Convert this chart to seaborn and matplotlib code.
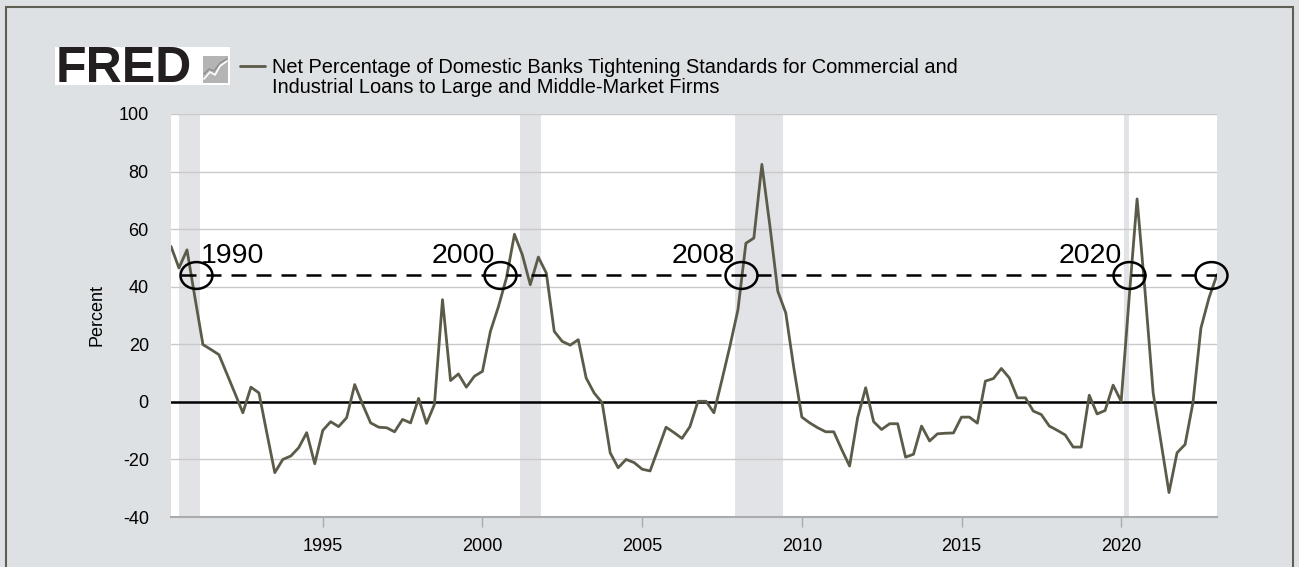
import numpy as np
import pandas as pd
import matplotlib
matplotlib.use("Agg")
import matplotlib.pyplot as plt
import seaborn as sns
from matplotlib.path import Path
from matplotlib.patches import Rectangle
from matplotlib.transforms import Affine2D

# ---------------- data ----------------
start_quarter = "1990-04-01"
tightening_pct = [
    54.0, 46.5, 52.8,                 # 1990 Q2-Q4
    36.0, 19.9, 18.2, 16.4,           # 1991
    9.7, 3.0, -3.8, 5.1,              # 1992
    3.1, -10.8, -24.6, -20.0,         # 1993
    -18.8, -15.9, -10.7, -21.5,       # 1994
    -9.9, -6.9, -8.6, -5.5,           # 1995
    6.0, -0.9, -7.3, -8.8,            # 1996
    -9.0, -10.4, -6.1, -7.3,          # 1997
    1.2, -7.5, -0.9, 35.5,            # 1998
    7.4, 9.7, 5.1, 8.9,               # 1999
    10.6, 24.5, 33.0, 43.0,           # 2000
    58.2, 51.1, 40.7, 50.3,           # 2001
    44.7, 24.5, 21.0, 19.7,           # 2002
    21.6, 8.3, 3.1, -0.3,             # 2003
    -17.7, -22.9, -20.0, -21.1,       # 2004
    -23.4, -24.0, -16.5, -8.8,        # 2005
    -10.7, -12.7, -8.6, 0.2,          # 2006
    0.2, -3.8, 7.5, 19.3,             # 2007
    32.0, 55.1, 56.9, 82.5,           # 2008
    61.0, 38.4, 30.9, 11.8,           # 2009
    -5.3, -7.3, -9.0, -10.4,          # 2010
    -10.4, -16.5, -22.3, -5.5,        # 2011
    4.9, -6.9, -9.6, -7.6,            # 2012
    -7.6, -19.2, -18.2, -8.4,         # 2013
    -13.6, -11.1, -10.9, -10.8,       # 2014
    -5.3, -5.3, -7.4, 7.2,            # 2015
    8.1, 11.6, 8.3, 1.4,              # 2016
    1.4, -3.2, -4.4, -8.4,            # 2017
    -9.9, -11.5, -15.7, -15.7,        # 2018
    2.3, -4.2, -3.0, 5.8,             # 2019
    0.2, 36.0, 70.5, 38.0,            # 2020
    3.1, -14.2, -31.5, -17.7,         # 2021
    -14.8, -0.3, 25.6, 36.1,          # 2022
    44.2,                             # 2023 Q1
]
recession_starts = ["1990-07-01", "2001-03-01", "2007-12-01", "2020-02-01"]
recession_ends = ["1991-03-01", "2001-11-01", "2009-06-01", "2020-04-01"]

threshold_level = 44
circle_years = [1991.02, 2000.55, 2008.11, 2020.24, 2022.80]
label_texts = ["1990", "2000", "2008", "2020"]
label_years = [1991.18, 2000.39, 2007.92, 2020.02]
label_align = ["left", "right", "right", "right"]
dash_start_year = 1990.55

y_ticks = [-40, -20, 0, 20, 40, 60, 80, 100]
x_tick_years = [1995, 2000, 2005, 2010, 2015, 2020]

series_name = ("Net Percentage of Domestic Banks Tightening Standards for Commercial and\n"
               "Industrial Loans to Large and Middle-Market Firms")


def year_to_ts(y):
    yi = int(y)
    return pd.Timestamp(year=yi, month=1, day=1) + pd.Timedelta(days=(y - yi) * 365.25)


dates = pd.date_range(start_quarter, periods=len(tightening_pct), freq="QS")
df = pd.DataFrame({"date": dates, "value": tightening_pct})

# ---------------- style ----------------
sns.set_style("white")
plt.rcParams["font.family"] = ["Liberation Sans", "DejaVu Sans"]

W, H = 1299, 567
bg = "#dde1e3"
line_color = "#5c5a48"

fig = plt.figure(figsize=(W / 100, H / 100), dpi=100, facecolor=bg)
ax = fig.add_axes([171 / W, 1 - 517 / H, (1217 - 171) / W, (517 - 114) / H])
ax.set_facecolor("white")

for s, e in zip(recession_starts, recession_ends):
    ax.axvspan(pd.Timestamp(s), pd.Timestamp(e), color="#e2e3e6", lw=0, zorder=0.2)

sns.lineplot(data=df, x="date", y="value", ax=ax, color=line_color, lw=2.0, zorder=4)

ax.axhline(0, color="black", lw=1.8, zorder=3)

# dashed threshold line
ax.hlines(threshold_level, year_to_ts(dash_start_year), dates[-1], colors="black",
          linestyles=(0, (6, 4)), lw=1.8, zorder=5)

# ellipse markers
ell = Path.unit_circle().transformed(Affine2D().scale(1.0, 0.84))
ax.plot([year_to_ts(y) for y in circle_years], [threshold_level] * len(circle_years),
        ls="none", marker=ell, ms=23, mfc="none", mec="black", mew=1.8, zorder=6,
        clip_on=False)

for t, y, a in zip(label_texts, label_years, label_align):
    ax.text(year_to_ts(y), 48.3, t, ha=a, va="baseline", fontsize=20.5, color="black", zorder=7)

ax.set_xlim(dates[0], dates[-1])
ax.set_ylim(-40, 100)
ax.set_yticks(y_ticks)
ax.set_yticklabels([str(v) for v in y_ticks])
ax.set_xticks([pd.Timestamp(year=y, month=1, day=1) for y in x_tick_years])
ax.set_xticklabels([str(y) for y in x_tick_years])
ax.grid(axis="y", color="#c9c9c9", lw=1.0, zorder=0.5)
ax.grid(axis="x", visible=False)
ax.set_axisbelow(True)
for sp in ["left", "right", "top"]:
    ax.spines[sp].set_visible(False)
ax.spines["bottom"].set_color("#a9abad")
ax.spines["bottom"].set_linewidth(1.5)
ax.tick_params(axis="y", length=0, pad=16, labelsize=13, labelcolor="black")
ax.tick_params(axis="x", length=7, width=1, color="#a9abad", pad=8, labelsize=13,
               labelcolor="black", direction="out", bottom=True)
ax.set_xlabel("")
ax.set_ylabel("")

fig.text(97 / W, 1 - 315 / H, "Percent", rotation=90, ha="center", va="center",
         fontsize=13, color="black")

# legend / title
fig.add_artist(plt.Line2D([240 / W, 265 / W], [1 - 66 / H, 1 - 66 / H], color=line_color,
                          lw=2, transform=fig.transFigure))
fig.text(272 / W, 1 - 58 / H, series_name, ha="left", va="top", fontsize=14.45,
         linespacing=1.06, color="black", transform=fig.transFigure)

# FRED logo
fig.add_artist(Rectangle((55 / W, 1 - 85 / H), (230 - 55) / W, (85 - 47) / H,
                         transform=fig.transFigure, facecolor="white", edgecolor="none"))
fig.text(56 / W, 1 - 82 / H, "FRED", ha="left", va="baseline", fontsize=36,
         fontweight="heavy", color="#231f20", transform=fig.transFigure)
fig.add_artist(Rectangle((203 / W, 1 - 83 / H), 25 / W, 27 / H, transform=fig.transFigure,
                         facecolor="#b4b4b4", edgecolor="none"))
fig.add_artist(plt.Line2D(np.array([204, 210, 215, 220, 227]) / W,
                          1 - np.array([79, 72, 75, 66, 61]) / H, color="white", lw=1.2,
                          transform=fig.transFigure))
fig.add_artist(plt.Line2D(np.array([204, 209, 214, 220, 227]) / W,
                          1 - np.array([74, 69, 71, 63, 59]) / H, color="#8c8c8c", lw=1.0,
                          transform=fig.transFigure))

# outer border
fig.add_artist(Rectangle((6 / W, -0.02), (1293 - 6) / W, 1.02 - 7 / H, transform=fig.transFigure,
                         fill=False, edgecolor="#5e5e52", lw=1.5))

fig.savefig("out.png", dpi=100, facecolor=bg)
